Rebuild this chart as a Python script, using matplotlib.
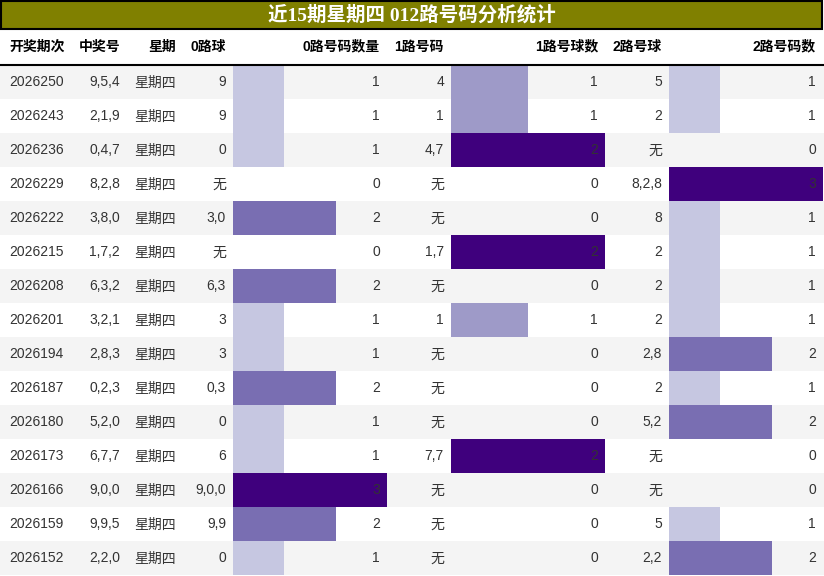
import matplotlib
matplotlib.use("Agg")
import matplotlib.pyplot as plt
from matplotlib.patches import Rectangle

plt.rcParams['font.family'] = ['Liberation Sans', 'Noto Sans CJK SC', 'DejaVu Sans']

title = "近15期星期四 012路号码分析统计"
headers = ["开奖期次", "中奖号", "星期", "0路球", "0路号码数量", "1路号码", "1路号球数", "2路号球", "2路号码数"]

periods = ["2026250", "2026243", "2026236", "2026229", "2026222", "2026215", "2026208", "2026201",
           "2026194", "2026187", "2026180", "2026173", "2026166", "2026159", "2026152"]
numbers = ["9,5,4", "2,1,9", "0,4,7", "8,2,8", "3,8,0", "1,7,2", "6,3,2", "3,2,1",
           "2,8,3", "0,2,3", "5,2,0", "6,7,7", "9,0,0", "9,9,5", "2,2,0"]
weekday = ["星期四"] * 15
road0_balls = ["9", "9", "0", "无", "3,0", "无", "6,3", "3", "3", "0,3", "0", "6", "9,0,0", "9,9", "0"]
road0_count = [1, 1, 1, 0, 2, 0, 2, 1, 1, 2, 1, 1, 3, 2, 1]
road1_balls = ["4", "1", "4,7", "无", "无", "1,7", "无", "1", "无", "无", "无", "7,7", "无", "无", "无"]
road1_count = [1, 1, 2, 0, 0, 2, 0, 1, 0, 0, 0, 2, 0, 0, 0]
road2_balls = ["5", "2", "无", "8,2,8", "8", "2", "2", "2", "2,8", "2", "5,2", "无", "无", "5", "2,2"]
road2_count = [1, 1, 0, 3, 1, 1, 1, 1, 2, 1, 2, 0, 0, 1, 2]

W, H = 824, 576
fig = plt.figure(figsize=(W / 100, H / 100), dpi=100)
ax = fig.add_axes([0, 0, 1, 1])
ax.set_xlim(0, W)
ax.set_ylim(H, 0)
ax.axis('off')

edges = [0, 72, 127, 183, 233, 387, 451, 605, 669, 823]
title_h = 28
header_top, header_bot = 29, 64.5
row_h = 34
text_color = "#333333"
cmap = plt.get_cmap('Purples')

# title bar
ax.add_patch(Rectangle((0.5, 0.5), 822, title_h, facecolor='#808000', edgecolor='black', lw=1.5, zorder=3))
ax.text(412, title_h / 2 + 1, title, color='white', fontsize=14, fontweight='bold',
        ha='center', va='center', family=['Liberation Serif', 'Noto Sans CJK SC'], zorder=4)

# header
hy = (header_top + header_bot) / 2
for i, h in enumerate(headers):
    if i == 0:
        ax.text(edges[0] + 9, hy, h, ha='left', va='center', fontsize=10, fontweight='bold', color='black')
    else:
        ax.text(edges[i + 1] - 7, hy, h, ha='right', va='center', fontsize=10, fontweight='bold', color='black')
ax.plot([0, W], [header_bot, header_bot], color='black', lw=1.5, zorder=5)

n = len(periods)
row_y = [header_bot + row_h * (k + 0.5) for k in range(n)]

# row backgrounds
for k in range(n):
    if k % 2 == 0:
        ax.add_patch(Rectangle((0, row_y[k] - row_h / 2), W, row_h, facecolor='#f4f4f4', edgecolor='none', zorder=0))

# data bars
bar_cols = [(4, road0_count), (6, road1_count), (8, road2_count)]
for ci, vals in bar_cols:
    x0, x1 = edges[ci], edges[ci + 1]
    vmax = max(vals)
    widths = [v / vmax * (x1 - x0) for v in vals]
    colors = [cmap(v / vmax) for v in vals]
    ax.barh(row_y, widths, height=row_h, left=x0, color=colors, edgecolor='none', zorder=1)

# text cells
columns = [periods, numbers, weekday, road0_balls, road0_count, road1_balls, road1_count, road2_balls, road2_count]
for ci, col in enumerate(columns):
    for k, v in enumerate(col):
        if ci == 0:
            ax.text(edges[0] + 9, row_y[k] + 1, str(v), ha='left', va='center', fontsize=10, color=text_color, zorder=6)
        else:
            ax.text(edges[ci + 1] - 7, row_y[k] + 1, str(v), ha='right', va='center', fontsize=10, color=text_color, zorder=6)

fig.savefig("out.png", dpi=100, facecolor='white')
